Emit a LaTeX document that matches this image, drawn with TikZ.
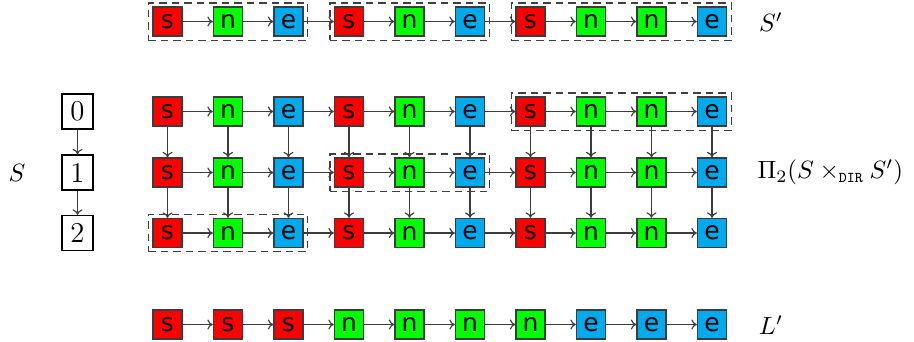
\documentclass[tikz,border=0pt]{standalone}
\usepackage{fontspec}
\newfontfamily\boxfont{DejaVu Sans}
\usetikzlibrary{fit,arrows.meta}
\definecolor{cs}{RGB}{255,0,0}
\definecolor{cn}{RGB}{0,255,0}
\definecolor{ce}{RGB}{0,170,236}
\definecolor{edge}{RGB}{60,60,60}
\tikzset{
  cell/.style={draw=edge,line width=0.5pt,minimum width=11.6pt,minimum height=11.6pt,inner sep=0pt,font=\boxfont},
  sbox/.style={cell,fill=cs},
  nbox/.style={cell,fill=cn},
  ebox/.style={cell,fill=ce},
  numbox/.style={draw,line width=0.5pt,minimum width=12.4pt,minimum height=14pt,inner sep=0pt,font=\fontsize{11.5}{14}\selectfont},
  arr/.style={-{To[length=2.2pt,width=4pt]},draw=edge,line width=0.45pt},
  grp/.style={draw=black!75,dashed,line width=0.5pt,inner xsep=1.6pt,inner ysep=1.4pt,dash pattern=on 3pt off 2pt},
}
\begin{document}
\begin{tikzpicture}[x=0.4pt,y=-0.4pt]
\useasboundingbox (0,0) rectangle (914,341);
% top row S'
\foreach \t [count=\i from 0] in {s,n,e,s,n,e,s,n,n,e}
  \node[\t box] (t\i) at ({167.5+60.5*\i},21.5) {\t};
\foreach \i [remember=\i as \j (initially 0)] in {1,...,9}
  \draw[arr] (t\j) -- (t\i);
\node[grp,fit=(t0)(t2)] (g1) {};
\node[grp,fit=(t3)(t5)] (g2) {};
\node[grp,fit=(t6)(t9)] (g3) {};
\node (lS') at (771,22) {$S'$};
% grid
\foreach \r/\y in {0/111.5,1/172.5,2/233}{
  \foreach \t [count=\i from 0] in {s,n,e,s,n,e,s,n,n,e}
    \node[\t box] (g\r-\i) at ({167.5+60.5*\i},\y) {\t};
  \foreach \i [remember=\i as \j (initially 0)] in {1,...,9}
    \draw[arr] (g\r-\j) -- (g\r-\i);
  \node[numbox] (k\r) at (77.5,\y) {\r};
}
\foreach \i in {0,...,9}{
  \draw[arr] (g0-\i) -- (g1-\i);
  \draw[arr] (g1-\i) -- (g2-\i);
}
\draw[arr] (k0) -- (k1);
\draw[arr] (k1) -- (k2);
\node[grp,fit=(g0-6)(g0-9)] (h0) {};
\node[grp,fit=(g1-3)(g1-5)] (h1) {};
\node[grp,fit=(g2-0)(g2-2)] (h2) {};
\node (lS) at (17,172.5) {$S$};
\node[anchor=west,inner sep=0pt] (lPi) at (757,172.5) {$\Pi_2(S\times_{\mbox{\fontsize{6}{7}\ttfamily DIR}}S')$};
% bottom row L'
\foreach \t [count=\i from 0] in {s,s,s,n,n,n,n,e,e,e}
  \node[\t box] (b\i) at ({167.5+60.5*\i},324.5) {\t};
\foreach \i [remember=\i as \j (initially 0)] in {1,...,9}
  \draw[arr] (b\j) -- (b\i);
\node (lL') at (771,325) {$L'$};
\end{tikzpicture}
\end{document}
